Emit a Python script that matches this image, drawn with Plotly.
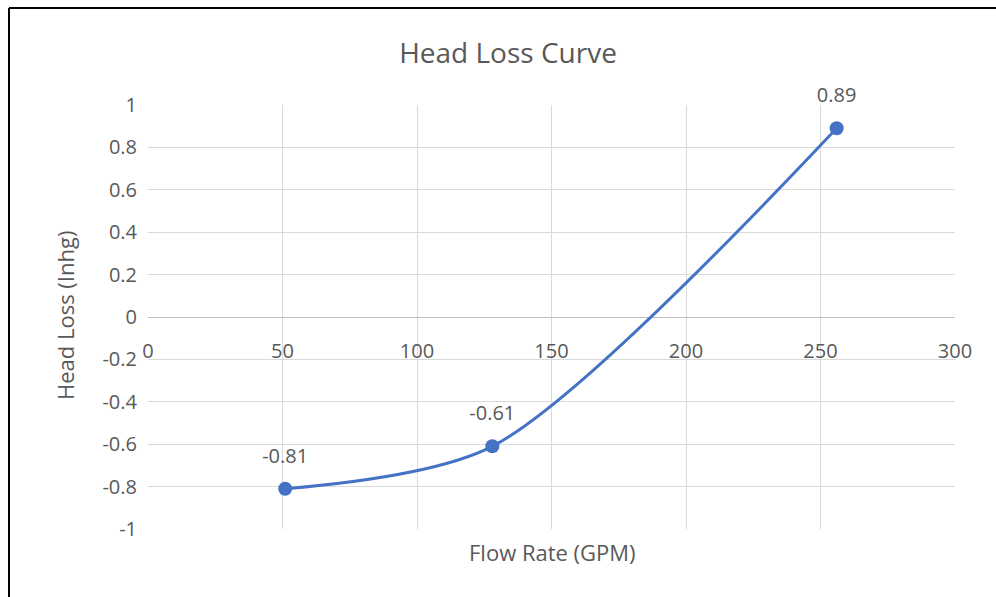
import plotly.graph_objects as go

flow_rate = [51, 128, 256]
head_loss = [-0.81, -0.61, 0.89]
labels = ["-0.81", "-0.61", "0.89"]
x_ticks = [0, 50, 100, 150, 200, 250, 300]
y_ticks = [-1, -0.8, -0.6, -0.4, -0.2, 0, 0.2, 0.4, 0.6, 0.8, 1]
y_tick_text = ["-1", "-0.8", "-0.6", "-0.4", "-0.2", "0", "0.2", "0.4", "0.6", "0.8", "1"]

blue = "#4472C4"
grey = "#595959"
font = "Open Sans"

fig = go.Figure()
fig.add_trace(go.Scatter(
    x=flow_rate, y=head_loss, mode="lines+markers",
    line=dict(color=blue, width=3, shape="spline", smoothing=0.8),
    marker=dict(color=blue, size=14),
    cliponaxis=False, showlegend=False, hoverinfo="skip",
))
# data labels (transparent marker used only to set label offset)
fig.add_trace(go.Scatter(
    x=flow_rate, y=head_loss, mode="markers+text",
    marker=dict(color="rgba(0,0,0,0)", size=32),
    text=labels, textposition="top center",
    textfont=dict(family=font, size=20, color=grey),
    cliponaxis=False, showlegend=False, hoverinfo="skip",
))

fig.update_layout(
    width=996, height=597,
    margin=dict(l=148, r=41, t=105, b=68),
    paper_bgcolor="white", plot_bgcolor="white",
    title=dict(text="Head Loss Curve", x=(508 - 0) / 996, xanchor="center", y=1 - 53/597, yanchor="middle",
               font=dict(family=font, size=28, color=grey)),
    xaxis=dict(range=[0, 300], tickvals=x_ticks, showgrid=True, gridcolor="#d9d9d9", gridwidth=1,
               zeroline=False, showline=False, anchor="free", position=0.5,
               ticks="", ticklabelstandoff=20,
               tickfont=dict(family=font, size=20, color=grey)),
    yaxis=dict(range=[-1, 1], tickvals=y_ticks, ticktext=y_tick_text, showgrid=True,
               gridcolor="#d9d9d9", gridwidth=1, zeroline=True, zerolinecolor="#bfbfbf",
               zerolinewidth=1, showline=False, ticks="", ticklabelstandoff=10,
               tickfont=dict(family=font, size=20, color=grey)),
)

fig.add_annotation(text="Flow Rate (GPM)", xref="paper", yref="paper", x=(552 - 148) / 807, y=-23/424,
                   xanchor="center", yanchor="middle", showarrow=False,
                   font=dict(family=font, size=22, color=grey))
fig.add_annotation(text="Head Loss (Inhg)", xref="paper", yref="paper", x=-83/807, y=(529 - 316) / 424,
                   xanchor="center", yanchor="middle", textangle=-90, showarrow=False,
                   font=dict(family=font, size=22, color=grey))

# outer frame lines (left and top) in paper coordinates
px = lambda v: (v - 148) / 807
py = lambda v: (529 - v) / 424
fig.add_shape(type="line", xref="paper", yref="paper", x0=px(9), x1=px(9), y0=py(8), y1=py(597),
              line=dict(color="black", width=2))
fig.add_shape(type="line", xref="paper", yref="paper", x0=px(9), x1=px(996), y0=py(8), y1=py(8),
              line=dict(color="black", width=2))

fig.write_html("out.html", config={"displayModeBar": False},
               post_script="document.body.style.margin='0';")
